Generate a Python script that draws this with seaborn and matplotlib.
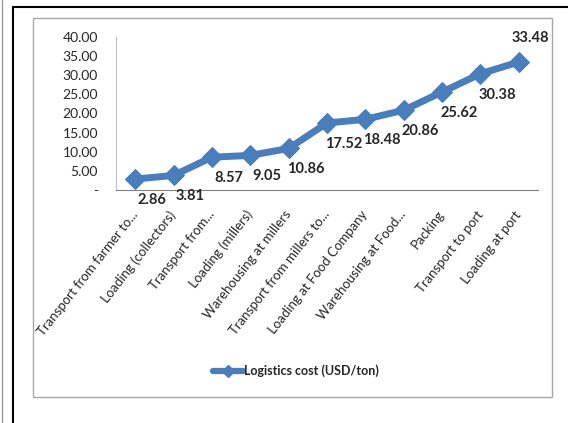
import pandas as pd
import matplotlib.pyplot as plt
import seaborn as sns
from matplotlib.patches import Rectangle
from matplotlib.lines import Line2D

sns.set_style("white")
plt.rcParams["font.family"] = ["Lato", "DejaVu Sans"]

# data
steps = ["Transport from farmer to...", "Loading (collectors)", "Transport from...",
         "Loading (millers)", "Warehousing at millers", "Transport from millers to...",
         "Loading at Food Company", "Warehousing at Food...", "Packing",
         "Transport to port", "Loading at port"]
cost = [2.86, 3.81, 8.57, 9.05, 10.86, 17.52, 18.48, 20.86, 25.62, 30.38, 33.48]
series_name = "Logistics cost (USD/ton)"

df = pd.DataFrame({"step": steps, "cost": cost, "x": range(len(steps))})

blue = "#4A7EBB"

fig = plt.figure(figsize=(5.68, 4.23), dpi=100)
W, H = 568, 423

# outer frames
fig.patches.append(Rectangle((13 / W, -0.1), 1.2, 1 - 7 / H + 0.1, transform=fig.transFigure,
                             fill=False, edgecolor="black", linewidth=1.5))
fig.lines.append(Line2D([2 / W, 2 / W], [0, 1], transform=fig.transFigure, color="#999999", lw=1))
fig.patches.append(Rectangle((33 / W, 1 - 397 / H), (552 - 33) / W, (397 - 18) / H,
                             transform=fig.transFigure, fill=False, edgecolor="#A6A6A6", linewidth=1))

ax = fig.add_axes([116 / W, 1 - 190 / H, (538 - 116) / W, (190 - 37) / H])

sns.lineplot(data=df, x="x", y="cost", ax=ax, color=blue, linewidth=5,
             marker="D", markersize=10, markeredgecolor=blue, label=series_name, legend=False)

ax.set_xlim(-0.5, len(steps) - 0.5)
ax.set_ylim(0, 40)
ax.set_yticks(range(0, 41, 5))
ax.set_yticklabels(["-"] + [f"{v:.2f}" for v in range(5, 41, 5)], fontsize=10)
ax.set_xticks(df["x"])
ax.set_xticklabels(steps, rotation=52, ha="right", va="center", rotation_mode="anchor", fontsize=9.5)
ax.tick_params(axis="y", length=0, pad=13)
ax.tick_params(axis="x", length=0, pad=16)
ax.set_xlabel("")
ax.set_ylabel("")
for s in ["top", "right"]:
    ax.spines[s].set_visible(False)
ax.spines["left"].set_color("#BFBFBF")
ax.spines["bottom"].set_color("#808080")

# data labels
for i, v in enumerate(cost):
    if i == len(cost) - 1:
        off = (8, 17)
    else:
        off = (12, -15)
    ax.annotate(f"{v:.2f}", (i, v), xytext=off, textcoords="offset points",
                ha="center", va="center", fontsize=10.5, fontweight="bold")

handle = Line2D([], [], color=blue, linewidth=4.5, marker="D", markersize=6)
fig.legend([handle], [series_name], loc="center", bbox_to_anchor=(296 / W, 1 - 371 / H),
           frameon=False, prop={"weight": "bold", "size": 9}, handlelength=2.4, handletextpad=0.05)

fig.savefig("out.png", dpi=100)
